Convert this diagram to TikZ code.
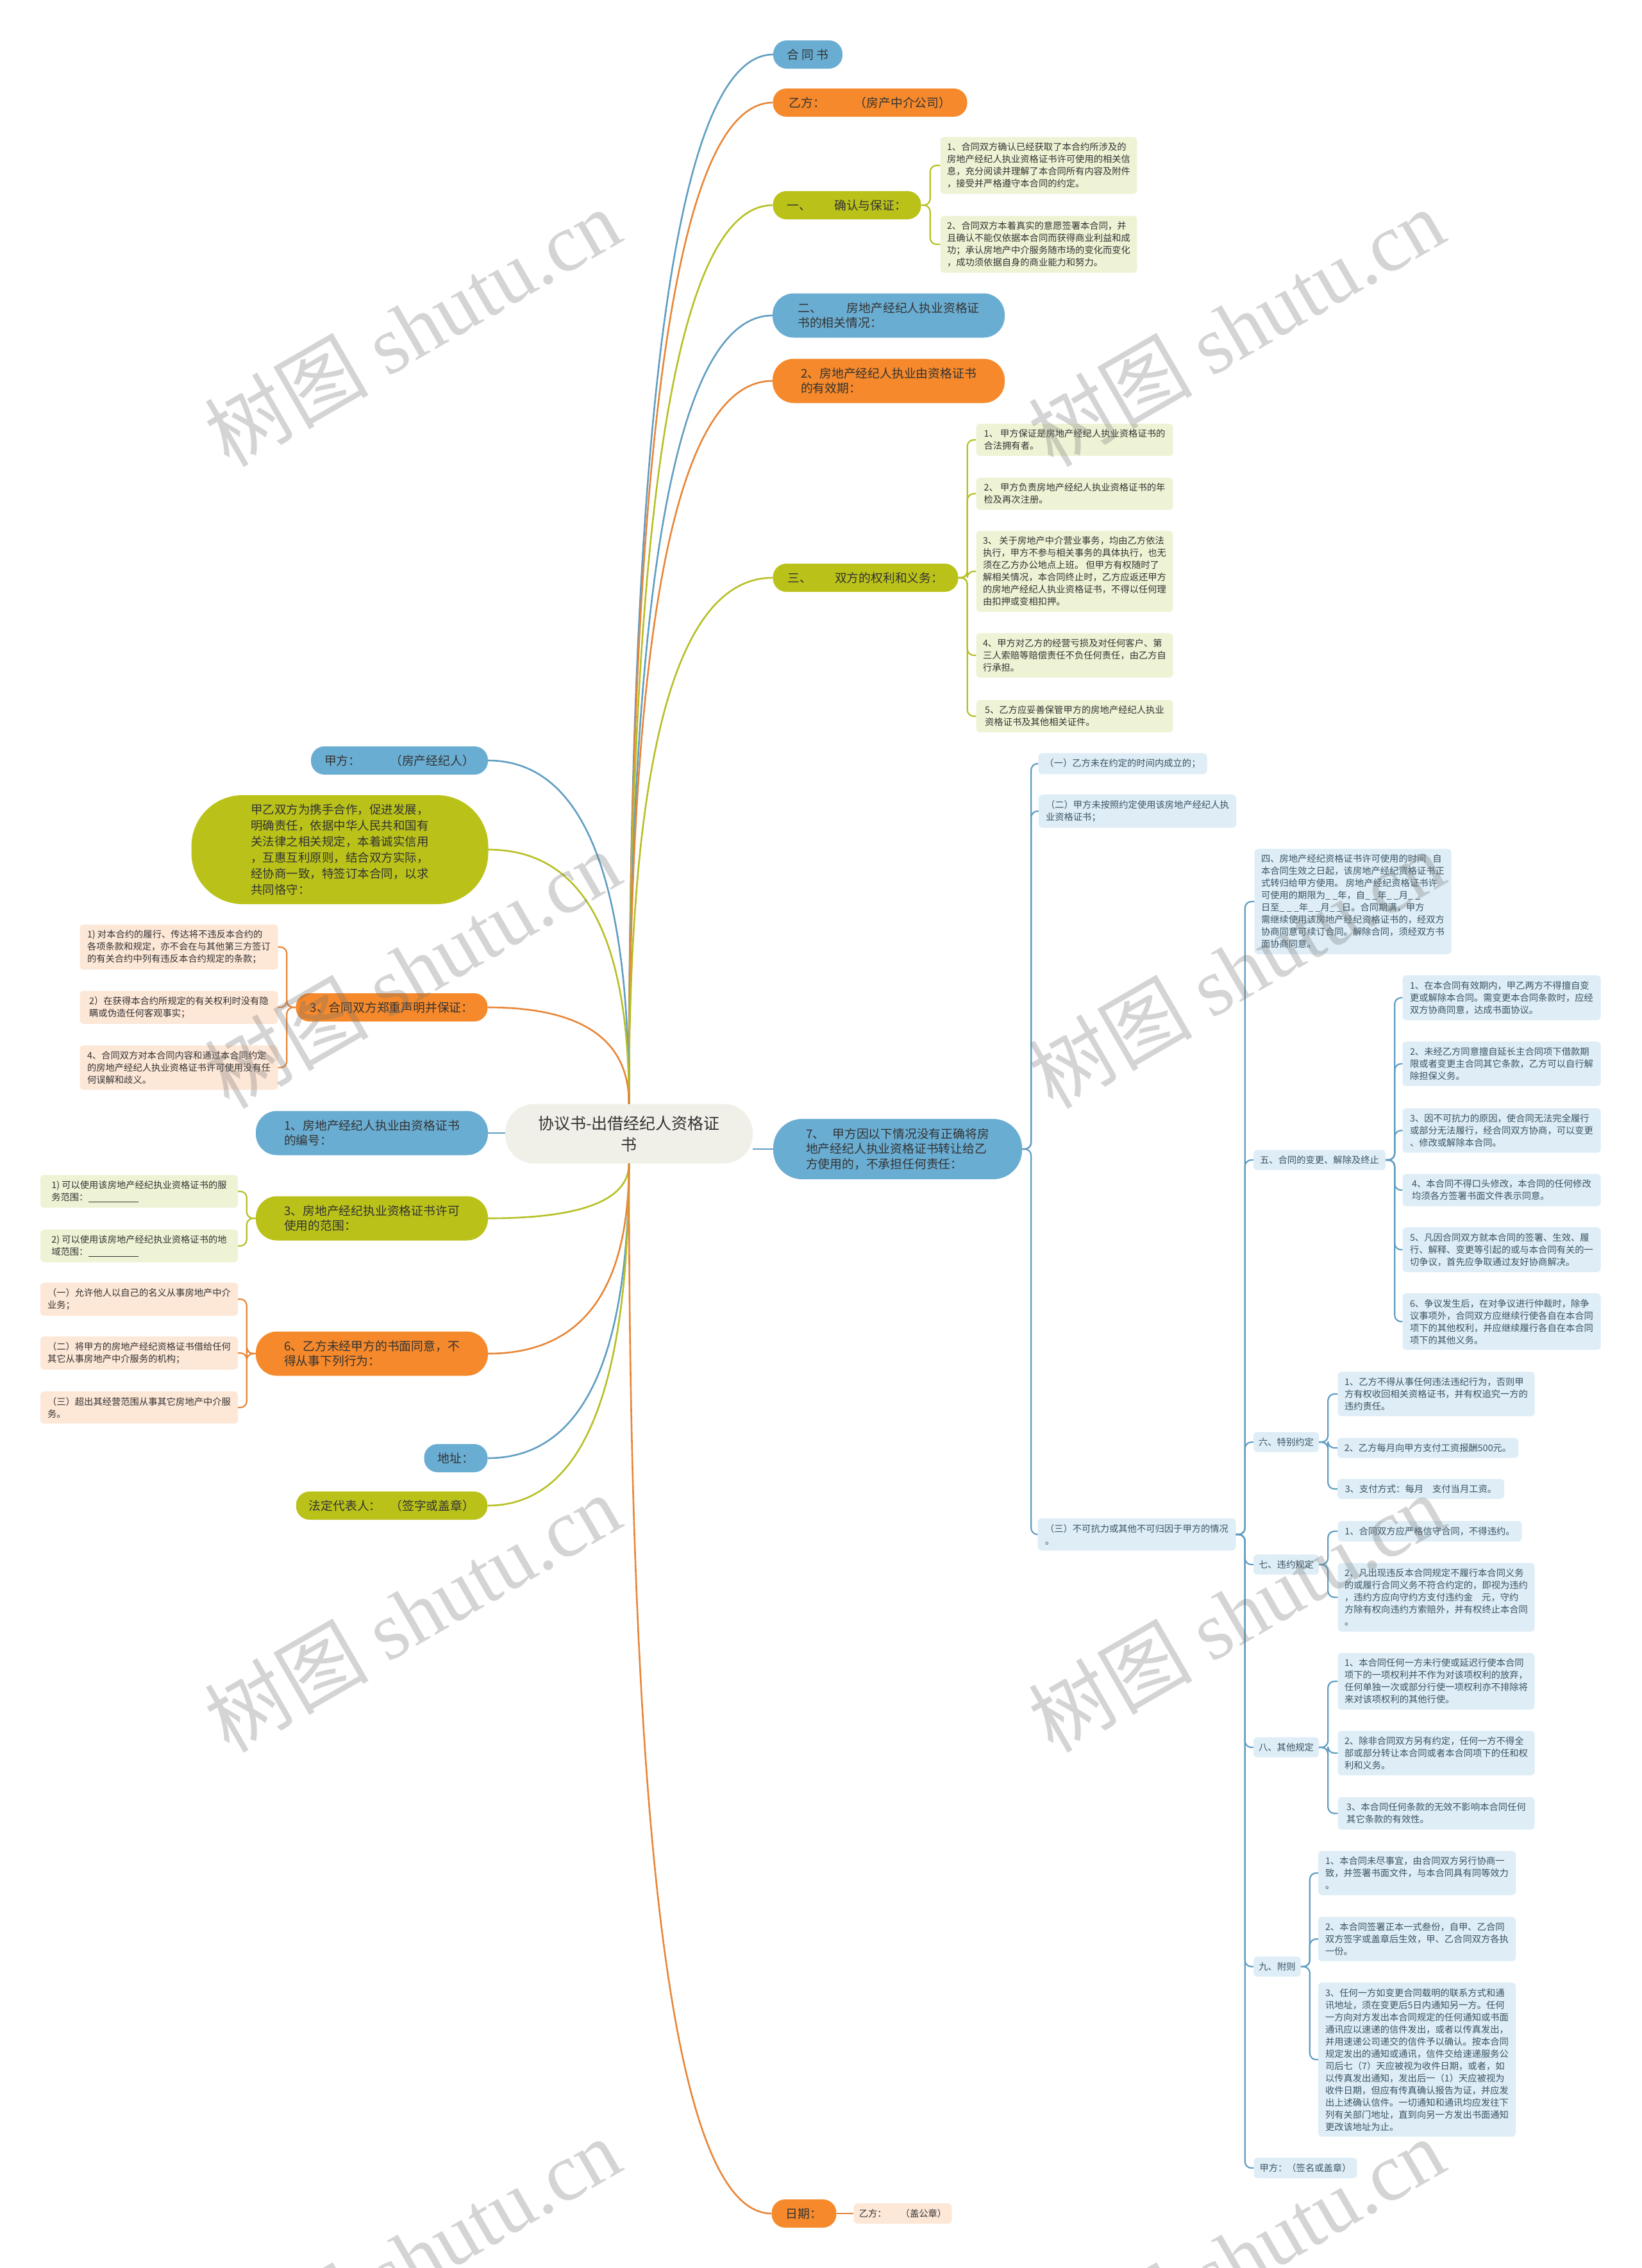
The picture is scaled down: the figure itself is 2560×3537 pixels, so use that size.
\documentclass[tikz,border=0pt]{standalone}
\usepackage{fontspec}
\setmainfont{Noto Sans CJK SC}
\newfontfamily\wmfont{Liberation Serif}
\usetikzlibrary{calc}
\definecolor{mapBlue}{RGB}{106,173,210}
\definecolor{mapOrange}{RGB}{245,137,43}
\definecolor{mapGreen}{RGB}{186,194,26}
\definecolor{mapCore}{RGB}{241,240,232}
\definecolor{leafGreen}{RGB}{239,243,213}
\definecolor{leafBlue}{RGB}{222,237,246}
\definecolor{leafOrange}{RGB}{253,231,215}
\definecolor{lineBlue}{RGB}{96,158,194}
\definecolor{lineOrange}{RGB}{232,134,56}
\definecolor{lineGreen}{RGB}{182,192,36}
\definecolor{mapText}{RGB}{51,51,51}
\definecolor{leafText}{RGB}{58,84,100}

\begin{document}
\begin{tikzpicture}[x=1pt, y=-1pt,
    every node/.style={inner sep=0pt, text=mapText},
    topic/.style={rectangle, rounded corners=21, minimum height=44, inner xsep=20, inner ysep=12, align=left, font=\fontsize{18.8}{23.5}\selectfont},
    twoline/.style={minimum width=362, minimum height=69, rounded corners=33},
    leaf/.style={rectangle, rounded corners=6, inner xsep=8, inner ysep=9, align=left, font=\fontsize{14.3}{19}\selectfont},
    bleaf/.style={leaf, fill=leafBlue, text=leafText},
    edge/.style={line width=2.6pt},
    bracket/.style={line width=2.2pt, rounded corners=10},
    watermark/.style={font=\fontsize{128}{128}\selectfont, text=black!55, text opacity=0.3, rotate=30}
  ]
\useasboundingbox (0,0) rectangle (2560,3537);
\fill[white] (0,0) rectangle (2560,3537);

% centre
\node[topic, fill=mapCore, minimum width=386, minimum height=93, rounded corners=45, align=center, font=\fontsize{25}{33}\selectfont] (ctr) at (981,1768) {协议书-出借经纪人资格证\\书};

% right side topics
\node[topic, fill=mapBlue, minimum width=108] (hts) at (1260,85) {合 同 书};
\node[topic, fill=mapOrange, minimum width=303] (yf) at (1357,160) {乙方：\hspace{46pt}（房产中介公司）};
\node[topic, fill=mapGreen, minimum width=231] (n1) at (1321,320) {一、\hspace{36pt}确认与保证：};
\node[topic, twoline, fill=mapBlue] (n2) at (1386,492) {二、\hspace{39pt}房地产经纪人执业资格证\\书的相关情况：};
\node[topic, twoline, fill=mapOrange] (n2b) at (1386,594) {2、房地产经纪人执业由资格证书\\的有效期：};
\node[topic, fill=mapGreen, minimum width=289] (n3) at (1350,901) {三、\hspace{36pt}双方的权利和义务：};
\node[topic, fill=mapBlue, minimum width=388, minimum height=94, rounded corners=45] (n7) at (1400,1792) {7、\hspace{12pt}甲方因以下情况没有正确将房\\地产经纪人执业资格证书转让给乙\\方使用的，不承担任何责任：};
\node[topic, fill=mapOrange, minimum width=101] (ndate) at (1254,3452) {日期：};

% left side topics
\node[topic, fill=mapBlue, minimum width=276] (jf) at (623,1186) {甲方：\hspace{46pt}（房产经纪人）};
\node[topic, fill=mapGreen, minimum width=463, minimum height=170, rounded corners=80, font=\fontsize{18.5}{25}\selectfont] (pre) at (530,1325) {甲乙双方为携手合作，促进发展，\\明确责任，依据中华人民共和国有\\关法律之相关规定，本着诚实信用\\，互惠互利原则，结合双方实际，\\经协商一致，特签订本合同，以求\\共同恪守：};
\node[topic, fill=mapOrange, minimum width=299] (s3) at (611,1571) {3、合同双方郑重声明并保证：};
\node[topic, twoline, fill=mapBlue] (bh) at (580,1767) {1、房地产经纪人执业由资格证书\\的编号：};
\node[topic, twoline, fill=mapGreen] (fw) at (580,1900) {3、房地产经纪执业资格证书许可\\使用的范围：};
\node[topic, twoline, fill=mapOrange] (s6) at (580,2111) {6、乙方未经甲方的书面同意，不\\得从事下列行为：};
\node[topic, fill=mapBlue, minimum width=99] (addr) at (711,2274) {地址：};
\node[topic, fill=mapGreen, minimum width=298] (rep) at (611,2348) {法定代表人：\hspace{14pt}（签字或盖章）};

% leaves of the right side
\node[leaf, fill=leafGreen, minimum width=307] (a1) at (1620,258) {1、合同双方确认已经获取了本合约所涉及的\\房地产经纪人执业资格证书许可使用的相关信\\息，充分阅读并理解了本合同所有内容及附件\\，接受并严格遵守本合同的约定。};
\node[leaf, fill=leafGreen, minimum width=307] (a2) at (1620,381) {2、合同双方本着真实的意愿签署本合同，并\\且确认不能仅依据本合同而获得商业利益和成\\功；承认房地产中介服务随市场的变化而变化\\，成功须依据自身的商业能力和努力。};
\node[leaf, fill=leafGreen, minimum width=307] (b1) at (1676,686) {1、 甲方保证是房地产经纪人执业资格证书的\\合法拥有者。};
\node[leaf, fill=leafGreen, minimum width=307] (b2) at (1676,770) {2、 甲方负责房地产经纪人执业资格证书的年\\检及再次注册。};
\node[leaf, fill=leafGreen, minimum width=307] (b3) at (1676,891) {3、 关于房地产中介营业事务，均由乙方依法\\执行，甲方不参与相关事务的具体执行，也无\\须在乙方办公地点上班。 但甲方有权随时了\\解相关情况，本合同终止时，乙方应返还甲方\\的房地产经纪人执业资格证书，不得以任何理\\由扣押或变相扣押。};
\node[leaf, fill=leafGreen, minimum width=307] (b4) at (1676,1022) {4、甲方对乙方的经营亏损及对任何客户、第\\三人索赔等赔偿责任不负任何责任，由乙方自\\行承担。};
\node[leaf, fill=leafGreen, minimum width=307] (b5) at (1676,1117) {5、乙方应妥善保管甲方的房地产经纪人执业\\资格证书及其他相关证件。};

\node[bleaf, minimum width=263] (c1) at (1751,1191) {（一）乙方未在约定的时间内成立的；};
\node[bleaf, minimum width=308] (c2) at (1774,1265) {（二）甲方未按照约定使用该房地产经纪人执\\业资格证书；};
\node[bleaf, minimum width=309] (c3) at (1773,2393) {（三）不可抗力或其他不可归因于甲方的情况\\。};

\node[bleaf, minimum width=307] (d4) at (2110,1406) {四、房地产经纪资格证书许可使用的时间\hspace{10pt}自\\本合同生效之日起，该房地产经纪资格证书正\\式转归给甲方使用。 房地产经纪资格证书许\\可使用的期限为\_ \_年，自\_ \_年\_ \_月\_ \_\\日至\_ \_ \_年\_ \_月\_ \_日。合同期满，甲方\\需继续使用该房地产经纪资格证书的，经双方\\协商同意可续订合同。解除合同，须经双方书\\面协商同意。};
\node[bleaf, minimum width=206] (d5) at (2058,1809) {五、合同的变更、解除及终止};
\node[bleaf, minimum width=309] (e1) at (2342,1556) {1、在本合同有效期内，甲乙两方不得擅自变\\更或解除本合同。需变更本合同条款时，应经\\双方协商同意，达成书面协议。};
\node[bleaf, minimum width=309] (e2) at (2342,1659) {2、未经乙方同意擅自延长主合同项下借款期\\限或者变更主合同其它条款，乙方可以自行解\\除担保义务。};
\node[bleaf, minimum width=309] (e3) at (2342,1763) {3、因不可抗力的原因，使合同无法完全履行\\或部分无法履行，经合同双方协商，可以变更\\、修改或解除本合同。};
\node[bleaf, minimum width=309] (e4) at (2342,1856) {4、本合同不得口头修改，本合同的任何修改\\均须各方签署书面文件表示同意。};
\node[bleaf, minimum width=309] (e5) at (2342,1949) {5、凡因合同双方就本合同的签署、生效、履\\行、解释、变更等引起的或与本合同有关的一\\切争议，首先应争取通过友好协商解决。};
\node[bleaf, minimum width=309] (e6) at (2342,2061) {6、争议发生后，在对争议进行仲裁时，除争\\议事项外，合同双方应继续行使各自在本合同\\项下的其他权利，并应继续履行各自在本合同\\项下的其他义务。};
\node[bleaf, minimum width=102] (d6) at (2006,2249) {六、特别约定};
\node[bleaf, minimum width=307] (f1) at (2240,2174) {1、乙方不得从事任何违法违纪行为，否则甲\\方有权收回相关资格证书，并有权追究一方的\\违约责任。};
\node[bleaf, minimum width=282] (f2) at (2227,2258) {2、乙方每月向甲方支付工资报酬500元。};
\node[bleaf, minimum width=260] (f3) at (2216,2322) {3、支付方式：每月\hspace{14pt}支付当月工资。};
\node[bleaf, minimum width=102] (d7) at (2006,2440) {七、违约规定};
\node[bleaf, minimum width=287] (g1) at (2230,2388) {1、合同双方应严格信守合同，不得违约。};
\node[bleaf, minimum width=307] (g2) at (2240,2491) {2、凡出现违反本合同规定不履行本合同义务\\的或履行合同义务不符合约定的，即视为违约\\，违约方应向守约方支付违约金\hspace{14pt}元，守约\\方除有权向违约方索赔外，并有权终止本合同\\。};
\node[bleaf, minimum width=102] (d8) at (2006,2725) {八、其他规定};
\node[bleaf, minimum width=307] (h1) at (2240,2622) {1、本合同任何一方未行使或延迟行使本合同\\项下的一项权利并不作为对该项权利的放弃，\\任何单独一次或部分行使一项权利亦不排除将\\来对该项权利的其他行使。};
\node[bleaf, minimum width=307] (h2) at (2240,2734) {2、除非合同双方另有约定，任何一方不得全\\部或部分转让本合同或者本合同项下的任和权\\利和义务。};
\node[bleaf, minimum width=307] (h3) at (2240,2828) {3、本合同任何条款的无效不影响本合同任何\\其它条款的有效性。};
\node[bleaf, minimum width=73] (d9) at (1992,3067) {九、附则};
\node[bleaf, minimum width=308] (i1) at (2210,2921) {1、本合同未尽事宜，由合同双方另行协商一\\致，并签署书面文件，与本合同具有同等效力\\。};
\node[bleaf, minimum width=308] (i2) at (2210,3024) {2、本合同签署正本一式叁份，自甲、乙合同\\双方签字或盖章后生效，甲、乙合同双方各执\\一份。};
\node[bleaf, minimum width=308] (i3) at (2210,3212) {3、任何一方如变更合同载明的联系方式和通\\讯地址，须在变更后5日内通知另一方。任何\\一方向对方发出本合同规定的任何通知或书面\\通讯应以速递的信件发出，或者以传真发出，\\并用速递公司递交的信件予以确认。按本合同\\规定发出的通知或通讯，信件交给速递服务公\\司后七（7）天应被视为收件日期，或者，如\\以传真发出通知，发出后一（1）天应被视为\\收件日期，但应有传真确认报告为证，并应发\\出上述确认信件。一切通知和通讯均应发往下\\列有关部门地址，直到向另一方发出书面通知\\更改该地址为止。};
\node[bleaf, minimum width=161] (jfs) at (2036,3381) {甲方：（签名或盖章）};
\node[leaf, fill=leafOrange, minimum width=153] (dleaf) at (1408,3452) {乙方：\hspace{22pt}（盖公章）};

% leaves of the left side
\node[leaf, fill=leafOrange, minimum width=309] (l1) at (279,1477) {1) 对本合约的履行、传达将不违反本合约的\\各项条款和规定，亦不会在与其他第三方签订\\的有关合约中列有违反本合约规定的条款；};
\node[leaf, fill=leafOrange, minimum width=309] (l2) at (279,1571) {2）在获得本合约所规定的有关权利时没有隐\\瞒或伪造任何客观事实；};
\node[leaf, fill=leafOrange, minimum width=309] (l4) at (279,1665) {4、合同双方对本合同内容和通过本合同约定\\的房地产经纪人执业资格证书许可使用没有任\\何误解和歧义。};
\node[leaf, fill=leafGreen, minimum width=308] (m1) at (217,1858) {1) 可以使用该房地产经纪执业资格证书的服\\务范围：\underline{\hspace{78pt}}};
\node[leaf, fill=leafGreen, minimum width=308] (m2) at (217,1943) {2) 可以使用该房地产经纪执业资格证书的地\\域范围：\underline{\hspace{78pt}}};
\node[leaf, fill=leafOrange, minimum width=308] (o1) at (217,2026) {（一）允许他人以自己的名义从事房地产中介\\业务；};
\node[leaf, fill=leafOrange, minimum width=308] (o2) at (217,2110) {（二）将甲方的房地产经纪资格证书借给任何\\其它从事房地产中介服务的机构；};
\node[leaf, fill=leafOrange, minimum width=308] (o3) at (217,2195) {（三）超出其经营范围从事其它房地产中介服\\务。};

% main branches
\foreach \nd/\clr in {hts/lineBlue, yf/lineOrange, n1/lineGreen, n2/lineBlue, n2b/lineOrange, n3/lineGreen}
  \draw[edge, \clr] (ctr.north) .. controls ($(ctr.north)!0.667!(ctr.north |- \nd.west)$) and ($(\nd.west)!0.667!(ctr.north |- \nd.west)$) .. (\nd.west);
\foreach \nd/\clr in {jf/lineBlue, pre/lineGreen, s3/lineOrange}
  \draw[edge, \clr] (ctr.north) .. controls ($(ctr.north)!0.667!(ctr.north |- \nd.east)$) and ($(\nd.east)!0.667!(ctr.north |- \nd.east)$) .. (\nd.east);
\foreach \nd/\clr in {fw/lineGreen, s6/lineOrange, addr/lineBlue, rep/lineGreen}
  \draw[edge, \clr] (ctr.south) .. controls ($(ctr.south)!0.667!(ctr.south |- \nd.east)$) and ($(\nd.east)!0.667!(ctr.south |- \nd.east)$) .. (\nd.east);
\draw[edge, lineOrange] (ctr.south) .. controls ($(ctr.south)!0.667!(ctr.south |- ndate.west)$) and ($(ndate.west)!0.667!(ctr.south |- ndate.west)$) .. (ndate.west);
\draw[edge, lineBlue] (ctr.east |- n7.west) -- (n7.west);
\draw[edge, lineBlue] (bh.east) -- (ctr.west |- bh.east);

% brackets to the leaves
\foreach \p/\kids/\clr in {n1/{a1,a2}/lineGreen, n3/{b1,b2,b3,b4,b5}/lineGreen, n7/{c1,c2,c3}/lineBlue, c3/{d4,d5,d6,d7,d8,d9,jfs}/lineBlue, d5/{e1,e2,e3,e4,e5,e6}/lineBlue, d6/{f1,f2,f3}/lineBlue, d7/{g1,g2}/lineBlue, d8/{h1,h2,h3}/lineBlue, d9/{i1,i2,i3}/lineBlue}
  \foreach \k in \kids
    \draw[bracket, \clr] (\p.east) -- ++(14,0) |- (\k.west);
\foreach \p/\kids/\clr in {s3/{l1,l2,l4}/lineOrange, fw/{m1,m2}/lineGreen, s6/{o1,o2,o3}/lineOrange}
  \foreach \k in \kids
    \draw[bracket, \clr] (\p.west) -- ++(-14,0) |- (\k.east);
\draw[bracket, lineOrange] (ndate.east) -- (dleaf.west);

% watermark
\foreach \wx/\wy in {643/510, 1928/510, 643/1511, 1928/1511, 643/2515, 1928/2515, 643/3519, 1928/3519}
  \node[watermark] (wm-\wx-\wy) at (\wx,\wy) {树图 {\wmfont shutu.cn}};
\end{tikzpicture}
\end{document}
